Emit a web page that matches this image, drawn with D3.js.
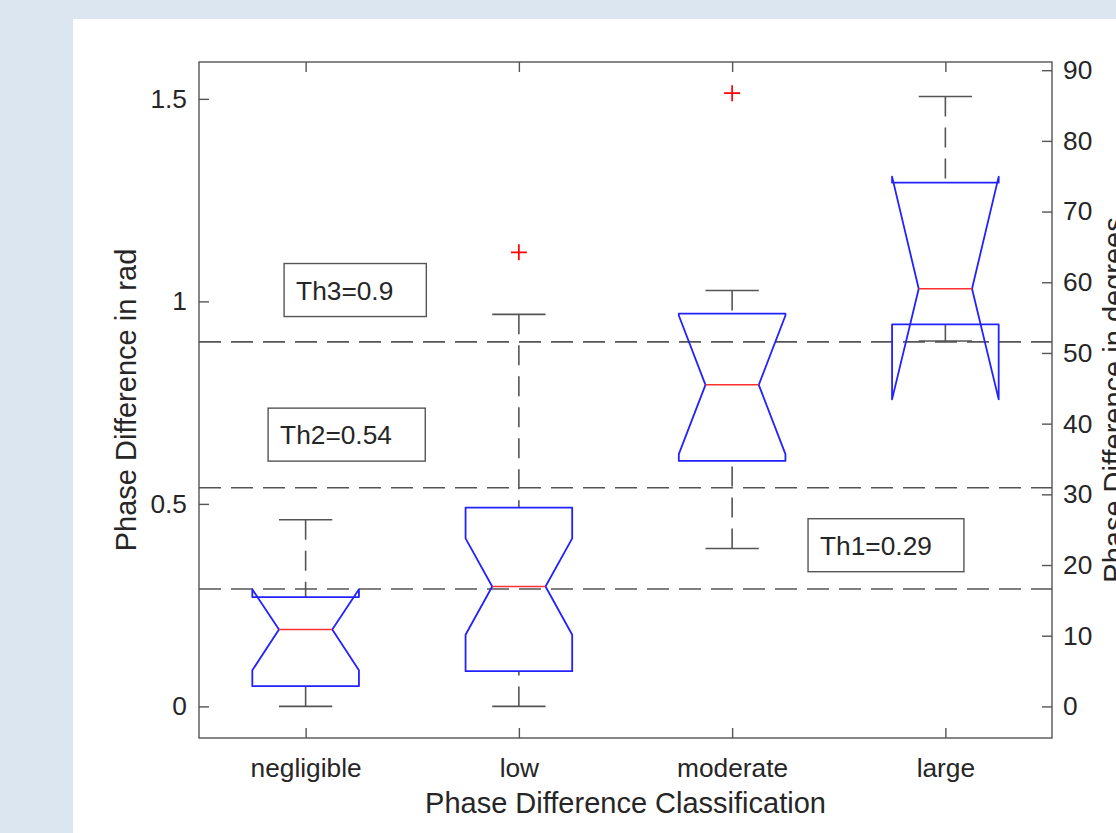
<!DOCTYPE html>
<html>
<head>
<meta charset="utf-8">
<script src="https://d3js.org/d3.v7.min.js"></script>
<style>
	body { margin: 0; background: #dce6f1; }
	svg { display: block; }
	text { font-family: "Liberation Sans", Arial, sans-serif; fill: #262626; }
</style>
</head>
<body>
<svg id="chart" width="1116" height="833"></svg>
<script>
// box plot values (rad)
var categories = ["negligible", "low", "moderate", "large"];
var lowerWhisker = [0.0, 0.0, 0.39, 0.902];
var q1 = [0.05, 0.087, 0.606, 0.943];
var notchLow = [0.089, 0.177, 0.623, 0.758];
var median = [0.19, 0.296, 0.794, 1.031];
var notchHigh = [0.289, 0.415, 0.965, 1.308];
var q3 = [0.27, 0.491, 0.97, 1.293];
var upperWhisker = [0.461, 0.968, 1.027, 1.506];
var outliers = [[], [1.121], [1.514], []];

var thresholds = [0.29, 0.54, 0.9];
var thresholdLabels = ["Th1=0.29", "Th2=0.54", "Th3=0.9"];

var radTicks = [0, 0.5, 1, 1.5];
var degTicks = [0, 10, 20, 30, 40, 50, 60, 70, 80, 90];

var svg = d3.select("#chart");
var width = +svg.attr("width");
var height = +svg.attr("height");

// plot area edges (window.top is read-only, so use other names)
var axL = 199, axT = 62, axR = 1052, axB = 738;
var tickFont = 26.3;
var labelFont = 29;
var axisColor = "#555";

// white figure panel
svg.append("rect")
	.attr("x", 73)
	.attr("y", 19)
	.attr("width", width - 73)
	.attr("height", height - 19)
	.attr("fill", "#fff");

var x = d3.scaleLinear().domain([0.5, 4.5]).range([axL, axR]);
var y = d3.scaleLinear().domain([-0.078, 1.591]).range([axB, axT]);
var yDeg = d3.scaleLinear()
	.domain(y.domain().map(function (d) { return d * 180 / Math.PI; }))
	.range([axB, axT]);

var g = svg.append("g");

// threshold lines
g.append("g")
	.selectAll("line")
	.data(thresholds)
	.enter().append("line")
	.attr("x1", axL)
	.attr("x2", axR)
	.attr("y1", function (d) { return y(d); })
	.attr("y2", function (d) { return y(d); })
	.attr("stroke", "#555")
	.attr("stroke-width", 1.6)
	.attr("stroke-dasharray", "22,10");

// threshold annotation boxes: [x0, x1] in category units, centre in rad
var annot = [
	{ x0: 3.356, x1: 4.087, cy: 0.398 },
	{ x0: 0.824, x1: 1.561, cy: 0.671 },
	{ x0: 0.899, x1: 1.566, cy: 1.028 }
];
var ann = g.append("g")
	.selectAll("g")
	.data(annot)
	.enter().append("g");

ann.append("rect")
	.attr("x", function (d) { return x(d.x0); })
	.attr("y", function (d) { return y(d.cy) - 26.5; })
	.attr("width", function (d) { return x(d.x1) - x(d.x0); })
	.attr("height", 53)
	.attr("fill", "#fff")
	.attr("stroke", "#555")
	.attr("stroke-width", 1.4);

ann.append("text")
	.attr("x", function (d) { return x(d.x0) + 12; })
	.attr("y", function (d) { return y(d.cy); })
	.attr("dy", "0.36em")
	.style("font-size", tickFont + "px")
	.text(function (d, i) { return thresholdLabels[i]; });

// box plots
var halfBox = 0.25, halfNotch = 0.125;
var boxes = g.append("g")
	.selectAll("g")
	.data(categories)
	.enter().append("g");

// whiskers
boxes.append("line")
	.attr("x1", function (d, i) { return x(i + 1); })
	.attr("x2", function (d, i) { return x(i + 1); })
	.attr("y1", function (d, i) { return y(upperWhisker[i]); })
	.attr("y2", function (d, i) { return y(q3[i]); })
	.attr("stroke", "#555")
	.attr("stroke-width", 1.6)
	.attr("stroke-dasharray", "20,11");

boxes.append("line")
	.attr("x1", function (d, i) { return x(i + 1); })
	.attr("x2", function (d, i) { return x(i + 1); })
	.attr("y1", function (d, i) { return y(lowerWhisker[i]); })
	.attr("y2", function (d, i) { return y(q1[i]); })
	.attr("stroke", "#555")
	.attr("stroke-width", 1.6)
	.attr("stroke-dasharray", "20,11");

[upperWhisker, lowerWhisker].forEach(function (arr) {
	boxes.append("line")
		.attr("x1", function (d, i) { return x(i + 1 - halfNotch); })
		.attr("x2", function (d, i) { return x(i + 1 + halfNotch); })
		.attr("y1", function (d, i) { return y(arr[i]); })
		.attr("y2", function (d, i) { return y(arr[i]); })
		.attr("stroke", "#555")
		.attr("stroke-width", 1.6);
});

// notched box outline (MATLAB style)
boxes.append("path")
	.attr("fill", "none")
	.attr("stroke", "#2222ff")
	.attr("stroke-width", 1.8)
	.attr("stroke-linejoin", "round")
	.attr("d", function (d, i) {
		var c = i + 1;
		var pts = [
			[c - halfBox, q1[i]],
			[c - halfBox, notchLow[i]],
			[c - halfNotch, median[i]],
			[c - halfBox, notchHigh[i]],
			[c - halfBox, q3[i]],
			[c + halfBox, q3[i]],
			[c + halfBox, notchHigh[i]],
			[c + halfNotch, median[i]],
			[c + halfBox, notchLow[i]],
			[c + halfBox, q1[i]]
		];
		return d3.line()
			.x(function (p) { return x(p[0]); })
			.y(function (p) { return y(p[1]); })(pts) + "Z";
	});

// medians
boxes.append("line")
	.attr("x1", function (d, i) { return x(i + 1 - halfNotch); })
	.attr("x2", function (d, i) { return x(i + 1 + halfNotch); })
	.attr("y1", function (d, i) { return y(median[i]); })
	.attr("y2", function (d, i) { return y(median[i]); })
	.attr("stroke", "#ff3030")
	.attr("stroke-width", 1.4);

// outliers
var outPts = [];
outliers.forEach(function (arr, i) {
	arr.forEach(function (v) { outPts.push({ c: i + 1, v: v }); });
});
g.append("g")
	.selectAll("path")
	.data(outPts)
	.enter().append("path")
	.attr("transform", function (d) { return "translate(" + x(d.c) + "," + y(d.v) + ")"; })
	.attr("d", "M-8,0H8M0,-8V8")
	.attr("fill", "none")
	.attr("stroke", "red")
	.attr("stroke-width", 1.7);

// axes, ticks pointing inward
var axLeft = svg.append("g")
	.attr("transform", "translate(" + axL + ",0)")
	.call(d3.axisLeft(y).tickValues(radTicks).tickFormat(d3.format("~g"))
		.tickSizeInner(-10).tickSizeOuter(0).tickPadding(12));

var axRight = svg.append("g")
	.attr("transform", "translate(" + axR + ",0)")
	.call(d3.axisRight(yDeg).tickValues(degTicks)
		.tickSizeInner(-10).tickSizeOuter(0).tickPadding(11));

var axBottom = svg.append("g")
	.attr("transform", "translate(0," + axB + ")")
	.call(d3.axisBottom(x).tickValues([1, 2, 3, 4])
		.tickFormat(function (d) { return categories[d - 1]; })
		.tickSizeInner(-10).tickSizeOuter(0).tickPadding(20));

var axTop = svg.append("g")
	.attr("transform", "translate(0," + axT + ")")
	.call(d3.axisTop(x).tickValues([1, 2, 3, 4]).tickFormat("")
		.tickSizeInner(-10).tickSizeOuter(0));

[axLeft, axRight, axBottom, axTop].forEach(function (a) {
	a.select(".domain").remove();
	a.selectAll(".tick line").attr("stroke", axisColor).attr("stroke-width", 1.4);
	a.selectAll(".tick text")
		.style("font-size", tickFont + "px")
		.style("font-family", "'Liberation Sans', Arial, sans-serif")
		.attr("fill", "#262626");
});

// axes box
svg.append("rect")
	.attr("x", axL)
	.attr("y", axT)
	.attr("width", axR - axL)
	.attr("height", axB - axT)
	.attr("fill", "none")
	.attr("stroke", axisColor)
	.attr("stroke-width", 1.4);

// axis labels
svg.append("text")
	.attr("x", (axL + axR) / 2)
	.attr("y", 813)
	.attr("text-anchor", "middle")
	.style("font-size", labelFont + "px")
	.text("Phase Difference Classification");

svg.append("text")
	.attr("transform", "translate(136," + (axT + axB) / 2 + ") rotate(-90)")
	.attr("text-anchor", "middle")
	.style("font-size", labelFont + "px")
	.text("Phase Difference in rad");

svg.append("text")
	.attr("transform", "translate(1124," + (axT + axB) / 2 + ") rotate(-90)")
	.attr("text-anchor", "middle")
	.style("font-size", labelFont + "px")
	.text("Phase Difference in degrees");
</script>
</body>
</html>
